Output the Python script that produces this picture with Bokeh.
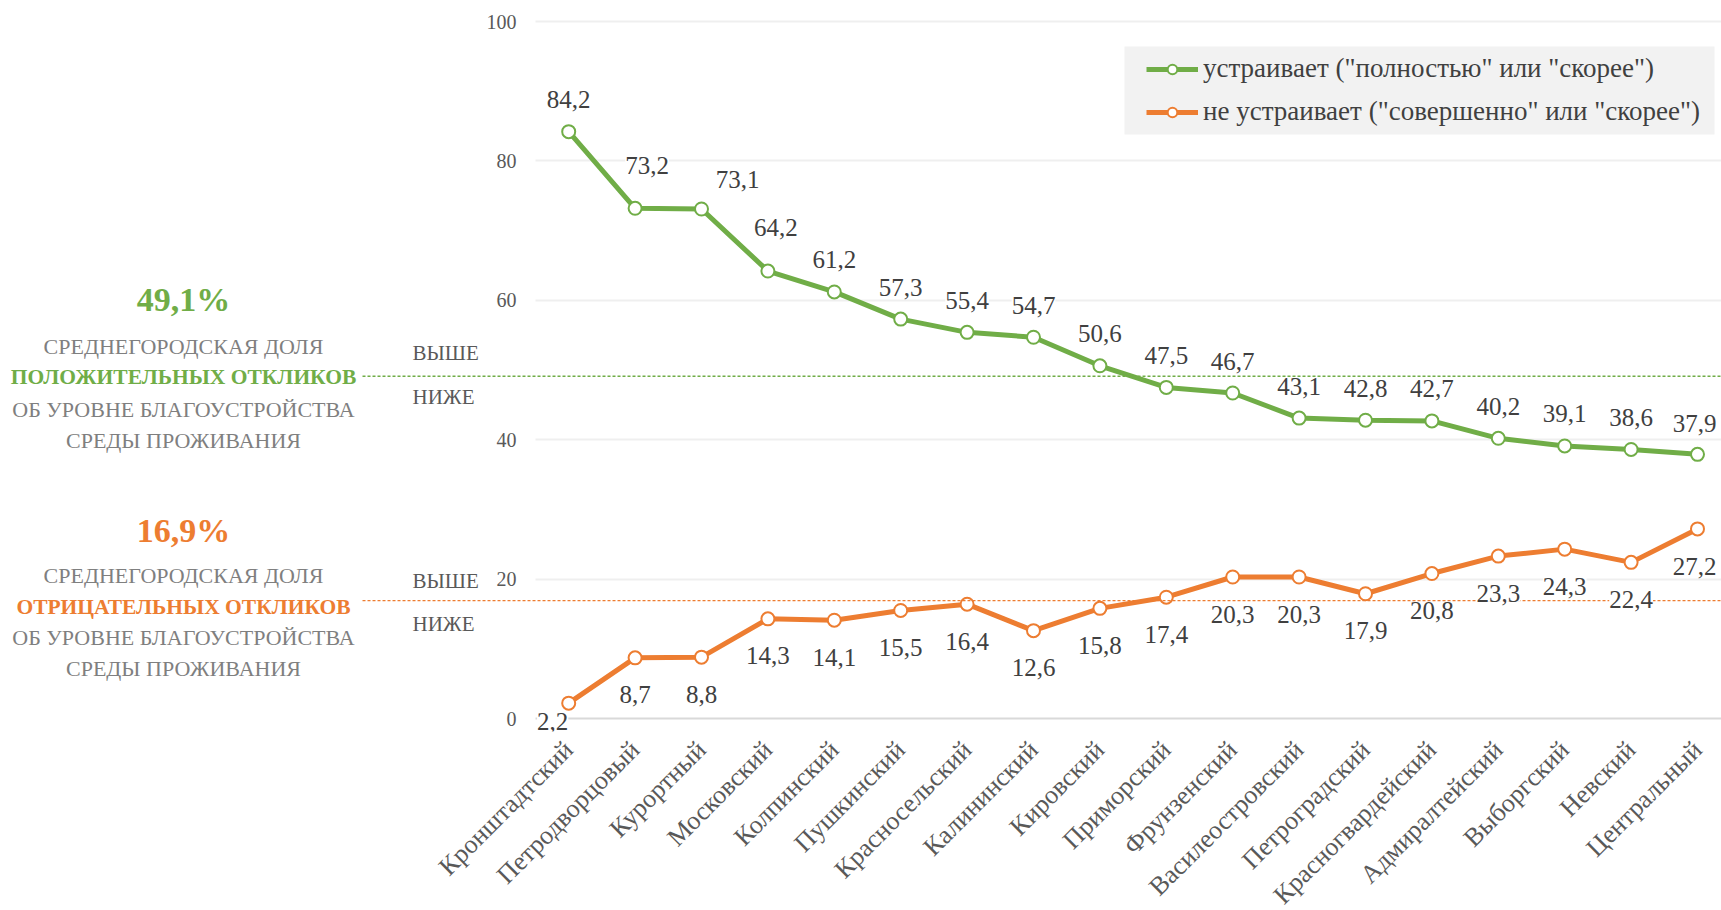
import math
from bokeh.plotting import figure
from bokeh.models import (ColumnDataSource, Range1d, FixedTicker, LabelSet, Label,
                          Legend, LegendItem, Arrow, Grid, BoxAnnotation)
from bokeh.embed import file_html
from bokeh.resources import INLINE

# ---------------- data ----------------
districts = ["Кронштадтский", "Петродворцовый", "Курортный", "Московский", "Колпинский",
             "Пушкинский", "Красносельский", "Калининский", "Кировский", "Приморский",
             "Фрунзенский", "Василеостровский", "Петроградский", "Красногвардейский",
             "Адмиралтейский", "Выборгский", "Невский", "Центральный"]
satisfied = [84.2, 73.2, 73.1, 64.2, 61.2, 57.3, 55.4, 54.7, 50.6, 47.5, 46.7, 43.1,
             42.8, 42.7, 40.2, 39.1, 38.6, 37.9]
unsatisfied = [2.2, 8.7, 8.8, 14.3, 14.1, 15.5, 16.4, 12.6, 15.8, 17.4, 20.3, 20.3,
               17.9, 20.8, 23.3, 24.3, 22.4, 27.2]
avg_satisfied = 49.1
avg_unsatisfied = 16.9
y_ticks = [0, 20, 40, 60, 80, 100]
series_names = ['устраивает ("полностью" или "скорее")',
                'не устраивает ("совершенно" или "скорее")']

# ---------------- style ----------------
GREEN = "#70AD47"
ORANGE = "#ED7D31"
FONT = "Liberation Serif"
TXT = "#404040"
GRAY = "#7f7f7f"

FRAME_W, FRAME_H = 1721, 731
PX_PER_CAT = 66.4          # horizontal distance between districts
PX_PER_UNIT = 6.97         # vertical pixels per percentage point
PLOT_LEFT_PX = 535         # where the chart area (grid) begins
n = len(districts)
x_idx = list(range(n))
x_start = -0.5 - PLOT_LEFT_PX / PX_PER_CAT
x_end = x_start + FRAME_W / PX_PER_CAT
y_end = 100 + 21 / PX_PER_UNIT
y_start = y_end - FRAME_H / PX_PER_UNIT

def px_x(px):  # canvas pixel -> data x
    return x_start + px / PX_PER_CAT

def px_y(py):  # canvas pixel (from top) -> data y
    return y_end - py / PX_PER_UNIT

p = figure(frame_width=FRAME_W, frame_height=FRAME_H, output_backend="svg",
           toolbar_location=None,
           x_range=Range1d(x_start, x_end), y_range=Range1d(y_start, y_end),
           min_border_left=0, min_border_right=0, min_border_top=0,
           min_border_bottom=10)
p.outline_line_color = None
p.background_fill_color = "white"
p.border_fill_color = "white"

# y axis drawn at the left edge of the chart area
p.yaxis.fixed_location = -0.5
p.yaxis.ticker = FixedTicker(ticks=y_ticks)
p.yaxis.axis_line_color = None
p.yaxis.major_tick_line_color = None
p.yaxis.minor_tick_line_color = None
p.yaxis.major_tick_out = 0
p.yaxis.major_tick_in = 0
p.yaxis.major_label_text_font = FONT
p.yaxis.major_label_text_font_size = "20px"
p.yaxis.major_label_text_color = "#595959"
p.yaxis.major_label_standoff = 19

# x axis (category names)
p.xaxis.ticker = FixedTicker(ticks=x_idx)
p.xaxis.major_label_overrides = {i: d for i, d in enumerate(districts)}
p.xaxis.major_label_orientation = math.pi / 4
p.xaxis.axis_line_color = None
p.xaxis.major_tick_line_color = None
p.xaxis.minor_tick_line_color = None
p.xaxis.major_tick_out = 0
p.xaxis.major_tick_in = 0
p.xaxis.major_label_text_font = FONT
p.xaxis.major_label_text_font_size = "26px"
p.xaxis.major_label_text_color = "#595959"
p.xaxis.major_label_standoff = 14

# grid: light lines + darker base line at 0, only over the chart area
p.xgrid.visible = False
p.ygrid.ticker = FixedTicker(ticks=y_ticks[1:])
p.ygrid.grid_line_color = "#efefef"
p.ygrid.grid_line_width = 2
p.ygrid.cross_bounds = (-0.5, x_end)
p.add_layout(Grid(dimension=1, ticker=FixedTicker(ticks=y_ticks[:1]),
                  grid_line_color="#d9d9d9", grid_line_width=2,
                  cross_bounds=(-0.5, x_end)))

# average dashed lines (start left of the chart area, next to the captions)
x_line_start = -0.5 - (PLOT_LEFT_PX - 362) / PX_PER_CAT
for avg, col in [(avg_satisfied, GREEN), (avg_unsatisfied, ORANGE)]:
    p.add_layout(Arrow(start=None, end=None, x_start=x_line_start, y_start=avg,
                       x_end=x_end, y_end=avg, line_color=col, line_width=1.3,
                       line_dash="3 2"))

# series
src_g = ColumnDataSource(dict(x=x_idx, y=satisfied))
src_o = ColumnDataSource(dict(x=x_idx, y=unsatisfied))
gl = p.line("x", "y", source=src_g, line_color=GREEN, line_width=5)
gs = p.scatter("x", "y", source=src_g, size=13, fill_color="white", line_color=GREEN, line_width=2)
ol = p.line("x", "y", source=src_o, line_color=ORANGE, line_width=5)
os_ = p.scatter("x", "y", source=src_o, size=13, fill_color="white", line_color=ORANGE, line_width=2)

# data labels
def fmt(v):
    return f"{v:.1f}".replace(".", ",")

g_adjust = {1: (12, 43), 2: (36, 29), 3: (8, 44), 17: (-3, 31)}
o_adjust = {0: (-16, -18), 17: (-3, -38)}
g_dx = [g_adjust.get(i, (0, 32))[0] for i in x_idx]
g_dy = [g_adjust.get(i, (0, 32))[1] for i in x_idx]
o_dx = [o_adjust.get(i, (0, -37))[0] for i in x_idx]
o_dy = [o_adjust.get(i, (0, -37))[1] for i in x_idx]

lab_g = ColumnDataSource(dict(x=x_idx, y=satisfied, t=[fmt(v) for v in satisfied], dx=g_dx, dy=g_dy))
lab_o = ColumnDataSource(dict(x=x_idx, y=unsatisfied, t=[fmt(v) for v in unsatisfied], dx=o_dx, dy=o_dy))
for s in (lab_g, lab_o):
    p.add_layout(LabelSet(x="x", y="y", text="t", source=s, x_offset="dx", y_offset="dy",
                          text_align="center", text_baseline="middle", text_font=FONT,
                          text_font_size="25px", text_color=TXT,
                          background_fill_color="white"))

# legend: grey panel + items
p.add_layout(BoxAnnotation(left=px_x(1124), right=px_x(1714), top=px_y(46), bottom=px_y(134),
                           fill_color="#f2f2f2", fill_alpha=1.0, line_color=None))
legend = Legend(items=[LegendItem(label=series_names[0], renderers=[gl, gs]),
                       LegendItem(label=series_names[1], renderers=[ol, os_])],
                location=(1146, FRAME_H - 127), background_fill_alpha=0.0,
                border_line_color=None,
                label_text_font=FONT, label_text_font_size="27px",
                label_text_color=TXT, glyph_width=52, glyph_height=24,
                label_standoff=5, padding=0, spacing=12, margin=0,
                label_height=30)
p.add_layout(legend)

# left-hand explanation blocks
def block(avg, col, pct, word, offs):
    lines = [(pct, col, "bold", "34px", offs[0]),
             ("СРЕДНЕГОРОДСКАЯ ДОЛЯ", GRAY, "normal", "22px", offs[1]),
             (word, col, "bold", "21.5px", offs[2]),
             ("ОБ УРОВНЕ БЛАГОУСТРОЙСТВА", GRAY, "normal", "22px", offs[3]),
             ("СРЕДЫ ПРОЖИВАНИЯ", GRAY, "normal", "22px", offs[4])]
    for text, c, style, size, dy in lines:
        p.add_layout(Label(x=-0.5, y=avg, x_offset=183 - PLOT_LEFT_PX, y_offset=dy, text=text,
                           text_align="center", text_baseline="middle", text_font=FONT,
                           text_font_size=size, text_font_style=style, text_color=c))
    for text, dy in [("ВЫШЕ", offs[5]), ("НИЖЕ", offs[6])]:
        p.add_layout(Label(x=-0.5, y=avg, x_offset=412 - PLOT_LEFT_PX, y_offset=dy, text=text,
                           text_align="left", text_baseline="middle", text_font=FONT,
                           text_font_size="21px", text_color="#595959"))

block(avg_satisfied, GREEN, "49,1%", "ПОЛОЖИТЕЛЬНЫХ ОТКЛИКОВ", [77, 30, -1, -33, -64, 23, -21])
block(avg_unsatisfied, ORANGE, "16,9%", "ОТРИЦАТЕЛЬНЫХ ОТКЛИКОВ", [70, 25, -6, -37, -68, 20, -23])

open("out.html", "w").write(file_html(p, INLINE))
